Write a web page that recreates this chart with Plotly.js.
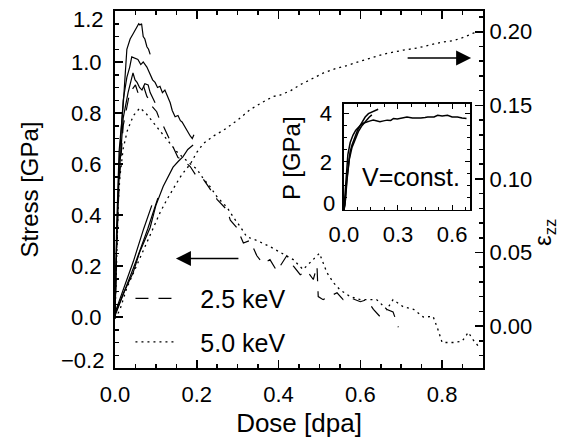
<!DOCTYPE html>
<html>
<head>
<meta charset="utf-8">
<script src="https://cdn.plot.ly/plotly-3.0.1.min.js"></script>
<style>html,body{margin:0;padding:0;background:#fff;}</style>
</head>
<body>
<div id="chart" style="width:584px;height:440px;"></div>
<script>
// ---- Main plot: stress (left axis) ----
const doseS1 = [0,0.004,0.01,0.02,0.029,0.037,0.044,0.05,0.054,0.058,0.061,0.065,0.069,0.073,0.078,0.082,0.086];
const stressS1 = [0,0.35,0.65,0.83,1.05,1.09,1.11,1.13,1.14,1.15,1.145,1.15,1.10,1.09,1.06,1.05,1.03];

const doseS2 = [0,0.004,0.01,0.02,0.029,0.036,0.041,0.049,0.056,0.063,0.069,0.078,0.086,0.092,0.098,0.104,0.11,0.116,0.122,0.13,0.135,0.14,0.147,0.154,0.16,0.164,0.171,0.179,0.184,0.189,0.193];
const stressS2 = [0,0.3,0.6,0.85,0.94,0.98,1.02,1.015,1.01,0.99,1.0,0.98,0.955,0.93,0.92,0.9,0.905,0.88,0.89,0.86,0.84,0.81,0.785,0.79,0.77,0.765,0.745,0.725,0.71,0.70,0.715];

const doseS3 = [0,0.004,0.01,0.02,0.032,0.044,0.049,0.054,0.06,0.066,0.073,0.081,0.086,0.091,0.098];
const stressS3 = [0,0.28,0.55,0.78,0.88,0.957,0.93,0.92,0.9,0.89,0.915,0.91,0.88,0.865,0.84];

// 2.5 keV (dashed)
const dose25 = [0,0.004,0.01,0.02,0.036,0.044,0.05,0.056,0.063,0.069,0.078,0.085,0.091,0.102,0.11,0.118,0.127,0.14,0.154,0.166,0.184,0.2,0.216,0.229,0.25,0.274,0.282,0.298,0.314,0.33,0.347,0.362,0.379,0.396,0.42,0.436,0.453,0.47,0.485,0.494,0.497,0.509,0.526,0.543,0.558,0.575,0.6,0.616,0.632,0.649,0.665,0.68,0.693];
const stress25 = [0,0.27,0.52,0.75,0.88,0.90,0.91,0.88,0.9,0.91,0.865,0.85,0.825,0.805,0.77,0.75,0.72,0.67,0.625,0.616,0.59,0.55,0.54,0.51,0.46,0.42,0.38,0.35,0.29,0.30,0.24,0.21,0.225,0.18,0.24,0.20,0.166,0.18,0.147,0.2,0.08,0.068,0.08,0.095,0.068,0.076,0.06,0.068,0.03,0.0,0.03,0.02,-0.04];

// 5.0 keV (dotted)
const dose50 = [0,0.004,0.008,0.012,0.02,0.03,0.045,0.061,0.075,0.09,0.11,0.13,0.15,0.17,0.184,0.2,0.215,0.233,0.25,0.274,0.29,0.306,0.322,0.347,0.379,0.404,0.42,0.436,0.46,0.485,0.5,0.518,0.534,0.55,0.575,0.6,0.624,0.64,0.665,0.68,0.705,0.73,0.754,0.778,0.79,0.8,0.828,0.849,0.864,0.876,0.889];
const stress50 = [0,0.25,0.45,0.55,0.66,0.73,0.79,0.82,0.8,0.77,0.73,0.69,0.65,0.62,0.6,0.58,0.545,0.51,0.47,0.43,0.39,0.355,0.315,0.30,0.276,0.255,0.24,0.225,0.186,0.225,0.25,0.175,0.135,0.107,0.08,0.068,0.068,0.068,0.03,0.068,0.04,0.03,0.0,0.002,-0.05,-0.1,-0.1,-0.095,-0.06,-0.09,-0.115];

// ---- Main plot: strain eps_zz (right axis) ----
const doseE1 = [0,0.02,0.044,0.06,0.086,0.1,0.118,0.13,0.142,0.155,0.166,0.178,0.191];
const strainE1 = [0.008,0.022,0.036,0.05,0.067,0.082,0.095,0.101,0.108,0.112,0.115,0.12,0.123];
const doseE2 = [0,0.02,0.045,0.07,0.09];
const strainE2 = [0.009,0.025,0.044,0.066,0.082];
const doseE3 = [0,0.02,0.05,0.08,0.105];
const strainE3 = [0.007,0.021,0.043,0.066,0.087];
const doseE50 = [0,0.012,0.029,0.045,0.061,0.077,0.093,0.11,0.127,0.143,0.159,0.172,0.184,0.2,0.216,0.24,0.265,0.3,0.33,0.36,0.387,0.404,0.43,0.453,0.48,0.51,0.54,0.567,0.6,0.624,0.66,0.705,0.74,0.77,0.8,0.828,0.85,0.876,0.89];
const strainE50 = [0.005,0.011,0.026,0.036,0.047,0.057,0.067,0.077,0.086,0.094,0.101,0.106,0.11,0.118,0.124,0.129,0.133,0.14,0.147,0.152,0.156,0.157,0.16,0.164,0.168,0.172,0.175,0.177,0.18,0.182,0.185,0.1875,0.189,0.191,0.193,0.194,0.196,0.199,0.2];

// ---- Inset: P at V=const ----
const pDose1 = [0,0.006,0.015,0.025,0.034,0.045,0.062,0.075,0.09,0.105,0.118,0.136,0.155,0.17,0.183,0.19];
const pVal1 = [0,0.2,1.2,1.9,2.4,2.7,3.05,3.3,3.5,3.7,3.86,4.0,4.07,4.1,4.17,4.18];
const pDose2 = [0,0.008,0.018,0.03,0.045,0.06,0.08,0.1,0.12,0.14,0.155];
const pVal2 = [0,0.4,1.3,2.1,2.6,2.9,3.25,3.5,3.7,3.85,3.95];
const pDose3 = [0,0.005,0.012,0.022,0.035,0.05,0.065,0.08,0.095,0.107,0.125,0.146,0.163,0.18,0.2,0.22,0.24,0.26,0.275,0.296,0.32,0.35,0.38,0.41,0.427,0.45,0.465,0.5,0.52,0.545,0.575,0.6,0.63,0.655,0.68];
const pVal3 = [0,0.5,1.5,2.3,2.8,3.1,3.3,3.45,3.55,3.6,3.66,3.7,3.73,3.7,3.66,3.7,3.73,3.72,3.8,3.78,3.82,3.86,3.82,3.8,3.82,3.84,3.86,3.86,3.93,3.9,3.93,3.86,3.86,3.82,3.8];

// ---- Tick labels ----
const xTickVals = [0,0.2,0.4,0.6,0.8];
const xTickText = ['0.0','0.2','0.4','0.6','0.8'];
const yTickVals = [0,0.2,0.4,0.6,0.8,1.0];
const yTickText = ['0.0','0.2','0.4','0.6','0.8','1.0'];
const y2TickVals = [0,0.05,0.1,0.15,0.2];
const y2TickText = ['0.00','0.05','0.10','0.15','0.20'];
const insetXVals = [0,0.3,0.6];
const insetXText = ['0.0','0.3','0.6'];
const insetYVals = [2,4];
const insetYText = ['2','4'];

const K = '#000';
const solid = {color:K, width:1.2};
const NB = '\u00a0\u00a0\u00a0';
const traces = [
  {x:doseS1, y:stressS1, mode:'lines', line:solid, showlegend:false, xaxis:'x', yaxis:'y'},
  {x:doseS2, y:stressS2, mode:'lines', line:solid, showlegend:false, xaxis:'x', yaxis:'y'},
  {x:doseS3, y:stressS3, mode:'lines', line:solid, showlegend:false, xaxis:'x', yaxis:'y'},
  {x:dose25, y:stress25, mode:'lines', name:NB + '2.5 keV', legendgroup:'a', line:{color:K, width:1.2, dash:'13px,10px'}, xaxis:'x', yaxis:'y'},
  {x:dose50, y:stress50, mode:'lines', name:NB + '5.0 keV', legendgroup:'b', line:{color:K, width:1.3, dash:'2px,4px'}, xaxis:'x', yaxis:'y'},
  {x:doseE1, y:strainE1, mode:'lines', line:solid, showlegend:false, xaxis:'x', yaxis:'y2'},
  {x:doseE2, y:strainE2, mode:'lines', line:solid, showlegend:false, xaxis:'x', yaxis:'y2'},
  {x:doseE3, y:strainE3, mode:'lines', line:solid, showlegend:false, xaxis:'x', yaxis:'y2'},
  {x:doseE50, y:strainE50, mode:'lines', line:{color:K, width:1.3, dash:'2px,4px'}, showlegend:false, xaxis:'x', yaxis:'y2'},
  {x:pDose1, y:pVal1, mode:'lines', line:{color:K, width:1.5}, showlegend:false, xaxis:'x2', yaxis:'y3'},
  {x:pDose2, y:pVal2, mode:'lines', line:{color:K, width:1.5}, showlegend:false, xaxis:'x2', yaxis:'y3'},
  {x:pDose3, y:pVal3, mode:'lines', line:{color:K, width:1.5}, showlegend:false, xaxis:'x2', yaxis:'y3'}
];

const FONT = 'Liberation Sans, Arial, Helvetica, sans-serif';
const axBase = {showgrid:false, zeroline:false, showline:true, linecolor:K, ticks:'inside', tickcolor:K, tickfont:{size:22, color:K, family:FONT}};

const layout = {
  width:584, height:440,
  margin:{l:115, r:101, t:11, b:72, pad:0},
  paper_bgcolor:'#fff', plot_bgcolor:'#fff',
  font:{family:FONT, color:K, size:22},
  showlegend:true,
  legend:{x:0.042, xanchor:'left', y:0.134, yanchor:'middle', bgcolor:'rgba(0,0,0,0)', borderwidth:0,
          font:{size:25, family:FONT, color:K}, tracegroupgap:8, traceorder:'grouped', itemwidth:39},
  xaxis:Object.assign({}, axBase, {
    domain:[0,1], anchor:'y', range:[0,0.9], tickmode:'array', tickvals:xTickVals, ticktext:xTickText,
    ticklen:8, tickwidth:1.5, linewidth:2, mirror:'ticks', ticklabelstandoff:6,
    minor:{tickmode:'linear', tick0:0, dtick:0.05, ticklen:4, tickwidth:1.5, ticks:'inside', tickcolor:K},
    title:{text:'Dose [dpa]', font:{size:26, family:FONT, color:K}, standoff:7}
  }),
  yaxis:Object.assign({}, axBase, {
    domain:[0,1], anchor:'x', range:[-0.2,1.2], tickmode:'array', tickvals:yTickVals, ticktext:yTickText,
    ticklen:8, tickwidth:1.5, linewidth:2, mirror:false, ticklabelstandoff:7,
    minor:{tickmode:'linear', tick0:0, dtick:0.05, ticklen:4, tickwidth:1.5, ticks:'inside', tickcolor:K},
    title:{text:'Stress [GPa]', font:{size:24, family:FONT, color:K}, standoff:26}
  }),
  yaxis2:Object.assign({}, axBase, {
    overlaying:'y', side:'right', anchor:'x', range:[-0.0285,0.2141], tickmode:'array', tickvals:y2TickVals, ticktext:y2TickText,
    ticklen:8, tickwidth:1.5, linewidth:2, ticklabelstandoff:0,
    minor:{tickmode:'linear', tick0:0, dtick:0.01, ticklen:4, tickwidth:1.5, ticks:'inside', tickcolor:K}
  }),
  xaxis2:Object.assign({}, axBase, {
    domain:[0.622,0.965], anchor:'y3', range:[0,0.7], tickmode:'array', tickvals:insetXVals, ticktext:insetXText,
    ticklen:5, tickwidth:1, linewidth:1.5, mirror:'ticks', ticklabelstandoff:4,
    minor:{tickmode:'linear', tick0:0, dtick:0.075, ticklen:3, tickwidth:1, ticks:'inside', tickcolor:K}
  }),
  yaxis3:Object.assign({}, axBase, {
    domain:[0.4426,0.7395], anchor:'x2', range:[0,4.4], tickmode:'array', tickvals:insetYVals, ticktext:insetYText,
    ticklen:5, tickwidth:1, linewidth:1.5, mirror:'ticks', ticklabelstandoff:6,
    minor:{tickmode:'linear', tick0:0, dtick:0.5, ticklen:3, tickwidth:1, ticks:'inside', tickcolor:K}
  }),
  annotations:[
    // end tick labels of the left axis (nudged inward as in the original)
    {xref:'paper', yref:'paper', x:0, y:(368-19)/357, xanchor:'right', yanchor:'middle', xshift:-9, text:'1.2', showarrow:false, font:{size:22, family:FONT, color:K}},
    {xref:'paper', yref:'paper', x:0, y:(368-360)/357, xanchor:'right', yanchor:'middle', xshift:-9, text:'\u22120.2', showarrow:false, font:{size:22, family:FONT, color:K}},
    // inset "0" label
    {xref:'paper', yref:'paper', x:0.622, y:(368-203)/357, xanchor:'right', yanchor:'middle', xshift:-7, text:'0', showarrow:false, font:{size:22, family:FONT, color:K}},
    // right axis title
    {xref:'paper', yref:'paper', x:(544-115)/368, y:(368-233)/357, xanchor:'center', yanchor:'middle', textangle:-90, text:'\u03b5<sub>zz</sub>', showarrow:false, font:{size:24, family:FONT, color:K}},
    // inset y title
    {xref:'paper', yref:'paper', x:(291-115)/368, y:(368-158)/357, xanchor:'center', yanchor:'middle', textangle:-90, text:'P [GPa]', showarrow:false, font:{size:24, family:FONT, color:K}},
    // inset label
    {xref:'x2', yref:'y3', x:0.37, y:1.37, xanchor:'center', yanchor:'middle', text:'V=const.', showarrow:false, font:{size:25, family:FONT, color:K}},
    // arrows pointing to the axes
    {xref:'x', yref:'y', x:0.149, y:0.229, ax:64, ay:0, text:'', showarrow:true, arrowhead:2, arrowsize:2, arrowwidth:1.5, arrowcolor:K},
    {xref:'x', yref:'y', x:0.871, y:1.0157, ax:-65, ay:0, text:'', showarrow:true, arrowhead:2, arrowsize:2, arrowwidth:1.5, arrowcolor:K}
  ]
};

Plotly.newPlot('chart', traces, layout, {displayModeBar:false, staticPlot:true});
</script>
</body>
</html>
